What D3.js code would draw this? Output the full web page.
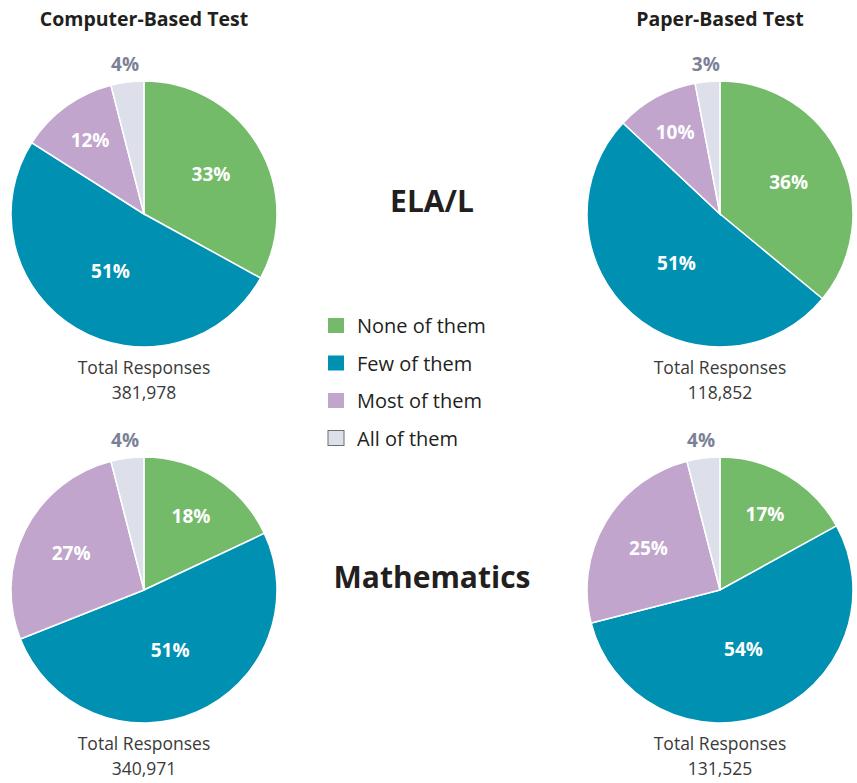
<!DOCTYPE html>
<html>
<head>
<meta charset="utf-8">
<script src="https://cdn.jsdelivr.net/npm/d3@7"></script>
<style>
  body { margin: 0; background: #fff; }
  svg { display: block; font-family: "Open Sans", Lato, sans-serif; }
</style>
</head>
<body>
<div id="chart"></div>
<script>
// --- Data ---
const categories = ["None of them", "Few of them", "Most of them", "All of them"];
const colors = ["#73ba69", "#0091b2", "#c1a5cd", "#dde0ea"];
const testTypes = ["Computer-Based Test", "Paper-Based Test"];
const subjects = ["ELA/L", "Mathematics"];

const cbtEla = [33, 51, 12, 4];
const pbtEla = [36, 51, 10, 3];
const cbtMath = [18, 51, 27, 4];
const pbtMath = [17, 54, 25, 4];

const cbtElaTotal = 381978;
const pbtElaTotal = 118852;
const cbtMathTotal = 340971;
const pbtMathTotal = 131525;

// --- Layout ---
const width = 857, height = 783;
const radius = 133;

const xCol = d3.scaleOrdinal().domain(testTypes).range([144, 720]);
const yRow = d3.scaleOrdinal().domain(subjects).range([214, 590]);

const panels = [
  { test: testTypes[0], subject: subjects[0], values: cbtEla, total: cbtElaTotal },
  { test: testTypes[1], subject: subjects[0], values: pbtEla, total: pbtElaTotal },
  { test: testTypes[0], subject: subjects[1], values: cbtMath, total: cbtMathTotal },
  { test: testTypes[1], subject: subjects[1], values: pbtMath, total: pbtMathTotal }
];

const svg = d3.select("#chart").append("svg")
  .attr("width", width)
  .attr("height", height);

const color = d3.scaleOrdinal().domain(categories).range(colors);
const pie = d3.pie().sort(null).value(d => d.value);
const arc = d3.arc().innerRadius(0).outerRadius(radius);
const fmt = d3.format(",");

// --- Column titles ---
svg.selectAll(".col-title")
  .data(testTypes)
  .join("text")
  .attr("class", "col-title")
  .attr("x", d => xCol(d))
  .attr("y", 26)
  .attr("text-anchor", "middle")
  .style("font-size", "19.5px")
  .style("font-weight", "bold")
  .style("fill", "#231f20")
  .text(d => d);

// --- Row titles ---
svg.selectAll(".row-title")
  .data(subjects)
  .join("text")
  .attr("class", "row-title")
  .attr("x", 432)
  .attr("y", d => yRow(d) - 2)
  .attr("text-anchor", "middle")
  .style("font-size", "30px")
  .style("font-weight", "bold")
  .style("fill", "#231f20")
  .text(d => d);

// --- Pies ---
const g = svg.selectAll(".panel")
  .data(panels)
  .join("g")
  .attr("class", "panel")
  .attr("transform", d => `translate(${xCol(d.test)},${yRow(d.subject)})`);

g.each(function(p) {
  const sel = d3.select(this);
  const slices = pie(categories.map((c, i) => ({ cat: c, value: p.values[i] })));

  sel.selectAll("path")
    .data(slices)
    .join("path")
    .attr("d", arc)
    .attr("fill", d => color(d.data.cat))
    .attr("stroke", "#fff")
    .attr("stroke-width", 1.5);

  // smaller slices get labels further out, tiny ones go outside
  sel.selectAll("text.pct")
    .data(slices)
    .join("text")
    .attr("class", "pct")
    .attr("transform", d => {
      const frac = d.data.value / 100;
      const r = d.data.value < 5 ? radius + 18 : radius * (0.75 - 0.5 * frac);
      const a = (d.startAngle + d.endAngle) / 2;
      return `translate(${r * Math.sin(a)},${-r * Math.cos(a)})`;
    })
    .attr("text-anchor", "middle")
    .attr("dy", "0.36em")
    .style("font-size", "19px")
    .style("font-weight", "bold")
    .style("fill", d => d.data.value < 5 ? "#7c8196" : "#fff")
    .text(d => d.data.value + "%");

  // totals below each pie
  sel.append("text")
    .attr("y", radius + 27)
    .attr("text-anchor", "middle")
    .style("font-size", "17.5px")
    .style("fill", "#3a3a3a")
    .text("Total Responses");

  sel.append("text")
    .attr("y", radius + 52)
    .attr("text-anchor", "middle")
    .style("font-size", "17.5px")
    .style("fill", "#3a3a3a")
    .text(fmt(p.total));
});

// --- Legend ---
const legend = svg.append("g").attr("transform", "translate(328,318)");
const item = legend.selectAll("g")
  .data(categories)
  .join("g")
  .attr("transform", (d, i) => `translate(0,${i * 37.5})`);

item.append("rect")
  .attr("width", 16)
  .attr("height", 15)
  .attr("fill", d => color(d))
  .attr("stroke", (d, i) => i === 3 ? "#6d6e71" : "none")
  .attr("stroke-width", 1);

item.append("text")
  .attr("x", 29)
  .attr("y", 15)
  .style("font-size", "20px")
  .style("fill", "#231f20")
  .text(d => d);
</script>
</body>
</html>
